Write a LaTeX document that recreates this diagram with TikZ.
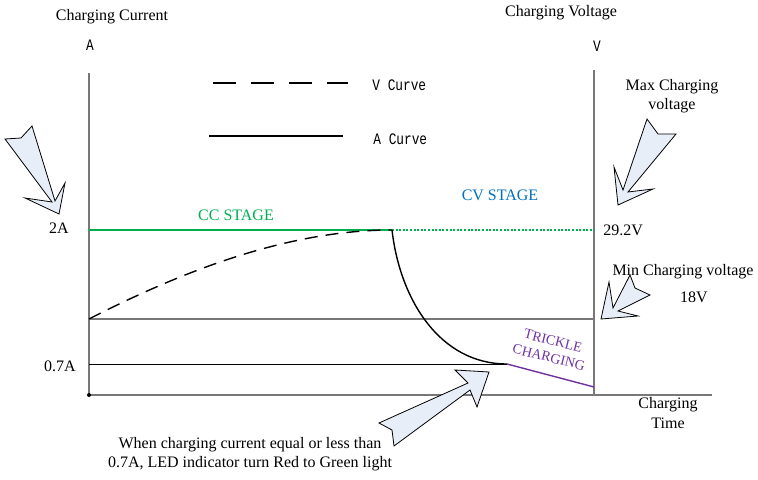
\documentclass[tikz,border=0pt]{standalone}
\usepackage{fontspec}
\setmainfont{Liberation Serif}
\newfontfamily\legendfont[FakeStretch=0.8]{Liberation Mono}
\definecolor{ccgreen}{RGB}{0,176,80}
\definecolor{cvblue}{RGB}{0,112,192}
\definecolor{tricklepurple}{RGB}{112,48,160}
\definecolor{calloutfill}{RGB}{232,238,248}
\definecolor{axisgray}{RGB}{120,120,120}
\begin{document}
\begin{tikzpicture}[x=0.5pt,y=-0.5pt,
    every node/.style={inner sep=0pt,font=\fontsize{8}{9.6}\selectfont},
    axisline/.style={draw=axisgray,line width=0.8pt},
    gridline/.style={draw=black,line width=0.4pt},
    vcurve/.style={line width=0.7pt,dash pattern=on 6.5pt off 4pt},
    acurve/.style={line width=0.7pt},
    callout/.style={draw=black,fill=calloutfill,line width=0.4pt,line join=miter},
    legendtext/.style={font=\legendfont\fontsize{8}{9.6}\selectfont}]
\useasboundingbox (0,0) rectangle (758,480);
\coordinate (origin) at (89,395);
\coordinate (ytop) at (89,73);
\coordinate (xend) at (712,395);
\coordinate (vtop) at (594,70);
\coordinate (vbot) at (594,395);
\coordinate (minleft) at (89,319);
\coordinate (minright) at (594,319);
\coordinate (lowleft) at (89,364);
\coordinate (knee) at (507,364);
\coordinate (trickleend) at (594,387);
\coordinate (ccleft) at (89,230);
\coordinate (ccend) at (392,230);
\coordinate (ccright) at (594,230);
\coordinate (vleg1) at (213,83);
\coordinate (vleg2) at (348,83);
\coordinate (aleg1) at (209,136);
\coordinate (aleg2) at (343,136);
\draw[axisline] (ytop) -- (origin) -- (xend);
\draw[axisline] (vtop) -- (vbot);
\fill (origin) circle (1pt);
\draw[axisline] (minleft) -- (minright);
\draw[gridline] (lowleft) -- (knee);
\draw[ccgreen,line width=0.7pt] (ccleft) -- (ccend);
\draw[ccgreen,line width=0.6pt,dash pattern=on 1pt off 0.8pt] (ccend) -- (ccright);
\draw[vcurve] (minleft) .. controls (200,262) and (300,230) .. (ccend);
\draw[acurve] (ccend) .. controls (400,300) and (440,364) .. (knee);
\draw[tricklepurple,line width=0.7pt] (knee) -- (trickleend);
\draw[line width=0.7pt,dash pattern=on 11.5pt off 7.5pt] (vleg1) -- (vleg2);
\draw[acurve] (aleg1) -- (aleg2);
\node (currtitle) at (112,17) {Charging Current};
\node (volttitle) at (561,13) {Charging Voltage};
\node[legendtext] (ylabel) at (90,45) {A};
\node[legendtext] (vlabel) at (597,46) {V};
\node[legendtext,anchor=west] (vlegtext) at (372,85) {V Curve};
\node[legendtext,anchor=west] (alegtext) at (373,139) {A Curve};
\node[anchor=east] (twoamp) at (69,228) {2A};
\node[anchor=east] (lowamp) at (76,366) {0.7A};
\node[ccgreen] (ccstage) at (236,215) {CC STAGE};
\node[cvblue] (cvstage) at (500,195) {CV STAGE};
\node[anchor=west] (maxvolt) at (603,230) {29.2V};
\node[align=center] (maxnote) at (672,96) {Max Charging\\voltage};
\node (minnote) at (683,272) {Min Charging voltage};
\node (minvolt) at (694,297) {18V};
\node[align=center] (timelabel) at (668,413) {Charging\\Time};
\node[align=center] (ledlabel) at (250,454) {When charging current equal or less than\\0.7A, LED indicator turn Red to Green light};
\node[tricklepurple,align=center,rotate=-14,font=\fontsize{7}{8.6}\selectfont] (trickle) at (551,349) {TRICKLE\\CHARGING};
\draw[callout] (5,139) -- (21,138) -- (32,126) -- (55,201) -- (65,183) -- (59,214) -- (25,198) -- (52,202) -- cycle;
\draw[callout] (647,119) -- (658,134) -- (676,134) -- (628,192) -- (653,189) -- (618,205) -- (614,167) -- (623,190) -- cycle;
\draw[callout] (630,275) -- (635,288) -- (650,295) -- (618,311) -- (638,316) -- (601,319) -- (609,282) -- (613,308) -- cycle;
\draw[callout] (379,423) -- (468,383) -- (455,370) -- (489,372) -- (477,407) -- (470,390) -- (394,446) -- (392,430) -- cycle;
\end{tikzpicture}
\end{document}
